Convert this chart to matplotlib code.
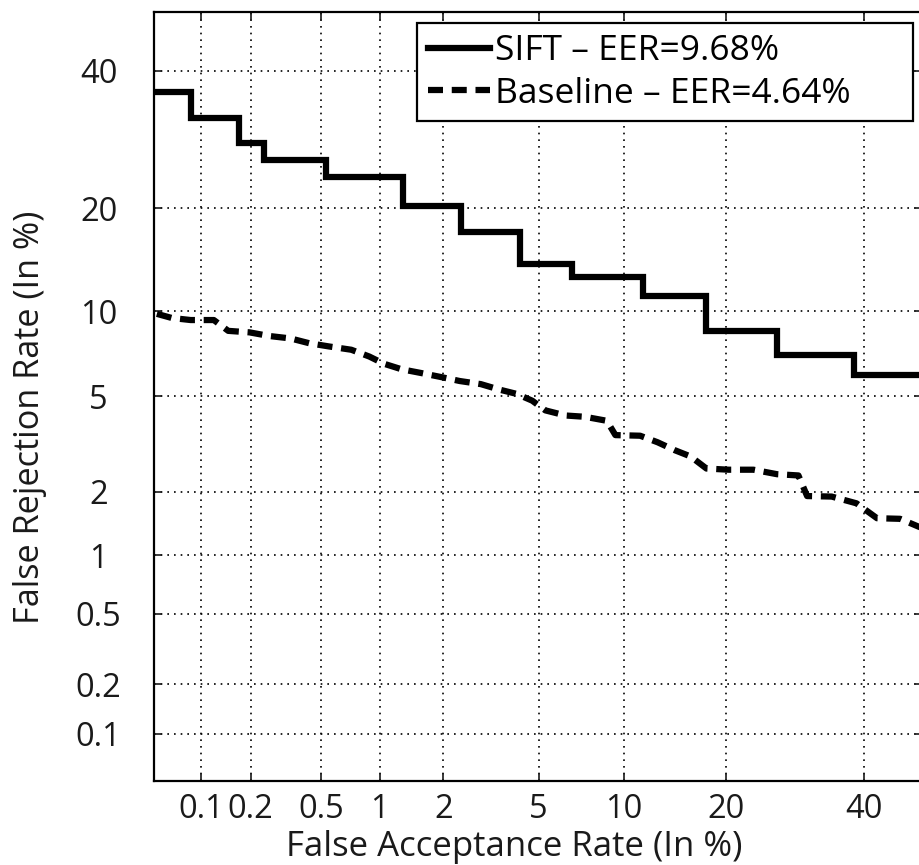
import math
import numpy as np
import matplotlib
matplotlib.use('Agg')
import matplotlib.pyplot as plt

# DET curve data (both rates in %)
sift_far = [0.05, 0.086, 0.17, 0.24, 0.53, 1.30, 2.41, 4.22, 6.66, 11.5, 17.6, 26.6, 38.4, 50]
sift_frr = [36.5, 32.5, 28.7, 26.3, 23.9, 20.3, 17.3, 14.0, 12.8, 11.2, 8.6, 7.1, 6.0, 6.0]

base_far = [0.052, 0.065, 0.086, 0.12, 0.147, 0.197, 0.257, 0.34, 0.43, 0.55,
            0.72, 0.89, 1.05, 1.28, 1.59, 1.95, 2.37, 2.92, 3.47, 4.09,
            4.72, 5.3, 6.3, 7.4, 8.8, 9.4, 11.3, 12.8, 14.4, 16.0,
            17.7, 20.3, 23.4, 26.6, 29.7, 31.0, 34.8, 38.8, 42.2, 46.1, 50]
base_frr = [9.8, 9.5, 9.35, 9.35, 8.6, 8.5, 8.26, 8.1, 7.8, 7.6,
            7.4, 7.0, 6.6, 6.3, 6.1, 5.9, 5.7, 5.55, 5.3, 5.1,
            4.8, 4.4, 4.2, 4.15, 4.0, 3.5, 3.48, 3.27, 3.03, 2.85,
            2.53, 2.5, 2.5, 2.39, 2.36, 1.91, 1.9, 1.77, 1.51, 1.5, 1.35]

x_ticks = [0.1, 0.2, 0.5, 1, 2, 5, 10, 20, 40]
y_ticks = [0.1, 0.2, 0.5, 1, 2, 5, 10, 20, 40]
tick_labels = ['0.1', '0.2', '0.5', '1', '2', '5', '10', '20', '40']
labels = ['SIFT – EER=9.68%', 'Baseline – EER=4.64%']


def norm_ppf(p):
    # Acklam's rational approximation of the inverse normal cdf
    a = [-3.969683028665376e+01, 2.209460984245205e+02, -2.759285104469687e+02,
         1.383577518672690e+02, -3.066479806614716e+01, 2.506628277459239e+00]
    b = [-5.447609879822406e+01, 1.615858368580409e+02, -1.556989798598866e+02,
         6.680131188771972e+01, -1.328068155288572e+01]
    c = [-7.784894002430293e-03, -3.223964580411365e-01, -2.400758277161838e+00,
         -2.549732539343734e+00, 4.374664141464968e+00, 2.938163982698783e+00]
    d = [7.784695709041462e-03, 3.224671290700398e-01, 2.445134137142996e+00,
         3.754408661907416e+00]
    p = np.asarray(p, dtype=float)
    plow = 0.02425
    q = np.sqrt(-2 * np.log(p))
    low = (((((c[0]*q + c[1])*q + c[2])*q + c[3])*q + c[4])*q + c[5]) / \
          ((((d[0]*q + d[1])*q + d[2])*q + d[3])*q + 1)
    q = np.sqrt(-2 * np.log(1 - p))
    high = -(((((c[0]*q + c[1])*q + c[2])*q + c[3])*q + c[4])*q + c[5]) / \
           ((((d[0]*q + d[1])*q + d[2])*q + d[3])*q + 1)
    q = p - 0.5
    r = q * q
    mid = (((((a[0]*r + a[1])*r + a[2])*r + a[3])*r + a[4])*r + a[5])*q / \
          (((((b[0]*r + b[1])*r + b[2])*r + b[3])*r + b[4])*r + 1)
    return np.where(p < plow, low, np.where(p > 1 - plow, high, mid))


_erf = np.vectorize(math.erf)


def probit_fwd(v):
    p = np.clip(np.asarray(v, dtype=float) / 100.0, 1e-10, 1 - 1e-10)
    return norm_ppf(p)


def probit_inv(z):
    z = np.asarray(z, dtype=float)
    return 100.0 * 0.5 * (1 + _erf(z / math.sqrt(2)))


plt.rcParams['font.family'] = ['Open Sans', 'DejaVu Sans']

fig = plt.figure(figsize=(9.2, 8.65), dpi=100)
ax = fig.add_axes([0.1677, 0.0975, 0.8355, 0.889])
ax.set_xscale('function', functions=(probit_fwd, probit_inv))
ax.set_yscale('function', functions=(probit_fwd, probit_inv))

ax.plot(sift_far, sift_frr, color='black', linewidth=4.5, drawstyle='steps-post',
        solid_joinstyle='miter', label=labels[0])
ax.plot(base_far, base_frr, color='black', linewidth=4.5, linestyle=(0, (2.4, 1.4)),
        label=labels[1])

ax.set_xlim(0.05, 50)
ax.set_ylim(0.05, 50)
ax.set_xticks(x_ticks)
ax.set_xticklabels(tick_labels)
ax.set_yticks(y_ticks)
ax.set_yticklabels(tick_labels)
ax.minorticks_off()

ax.grid(which='major', color='black', linestyle=(0, (1, 3)), linewidth=1.2)
ax.tick_params(axis='both', direction='in', length=6, width=1.2, top=True, right=True,
               labelsize=23.5, colors='#1a1a1a')
ax.tick_params(axis='x', pad=9)
ax.tick_params(axis='y', pad=40)
for t in ax.get_yticklabels():
    t.set_horizontalalignment('center')
for s in ax.spines.values():
    s.set_linewidth(1.6)

ax.set_xlabel('False Acceptance Rate (In %)', fontsize=25, color='#1a1a1a')
ax.set_ylabel('False Rejection Rate (In %)', fontsize=24.7, color='#1a1a1a')
ax.xaxis.set_label_coords(0.4686, -0.0862)
ax.xaxis.label.set_verticalalignment('center')
ax.yaxis.set_label_coords(-0.1617, 0.4723)
ax.yaxis.label.set_verticalalignment('center')

# legend frame spans 417..913 px wide, 23..122 px from the top
lx0, lx1 = 417.3 / 920, 913.3 / 920
ly0, ly1 = 1 - 121.7 / 865, 1 - 23.3 / 865
leg = ax.legend(loc='upper left', bbox_to_anchor=(lx0, ly0, lx1 - lx0, ly1 - ly0),
                bbox_transform=fig.transFigure, mode='expand', fontsize=25.5,
                frameon=True, fancybox=False, framealpha=1, edgecolor='black',
                handlelength=1.75, handletextpad=0.15, borderpad=0.3,
                labelspacing=0.25, borderaxespad=0)
leg.get_frame().set_linewidth(1.6)

fig.savefig('out.png', dpi=100)
